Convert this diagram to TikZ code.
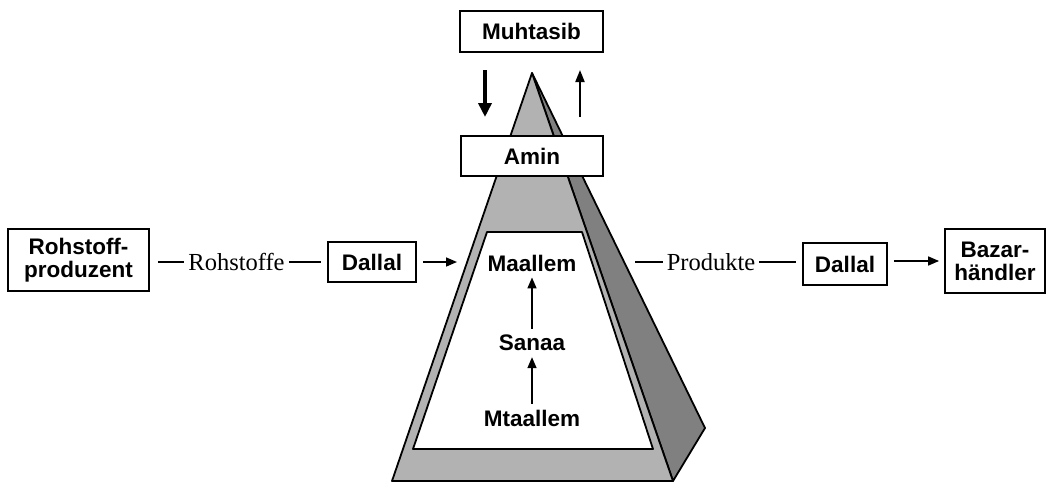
\documentclass[tikz,border=0pt]{standalone}
\usepackage{fontspec}
\setmainfont{Liberation Serif}
\setsansfont{Liberation Sans}
\usetikzlibrary{arrows.meta}
\begin{document}
\begin{tikzpicture}[x=1pt,y=-1pt,
  box/.style={draw=black,line width=1.8pt,fill=white,inner sep=0pt,align=center,
    font=\sffamily\bfseries\fontsize{22.5}{25}\selectfont},
  lbl/.style={inner sep=0pt,font=\sffamily\bfseries\fontsize{22.5}{25}\selectfont},
  srf/.style={inner sep=4pt,font=\rmfamily\fontsize{24.5}{28}\selectfont},
  conn/.style={line width=1.5pt},
  arr/.style={line width=1.6pt,-{Triangle[length=11pt,width=9pt]}},
  face/.style={draw=black,line width=1.8pt,line join=round}]
\useasboundingbox (0,0) rectangle (1050,483);
% pyramid
\coordinate (apex) at (532,73);
\coordinate (bl) at (392,481);
\coordinate (br) at (673,481);
\coordinate (sr) at (705,428);
\draw[face,fill=black!50] (apex) -- (sr) -- (br) -- cycle;
\draw[face,fill=black!30] (apex) -- (br) -- (bl) -- cycle;
\draw[face,fill=white] (487,232) -- (582,232) -- (653,449) -- (413,449) -- cycle;
% boxes
\node[box,minimum width=143pt,minimum height=41pt] (mu) at (531.5,31.5) {Muhtasib};
\node[box,minimum width=142pt,minimum height=40pt] (am) at (532,156) {Amin};
\node[box,minimum width=141pt,minimum height=62pt] (rp) at (78.5,260) {Rohstoff-\\[-2pt]produzent};
\node[srf] (rs) at (236.5,262) {Rohstoffe};
\node[box,minimum width=88pt,minimum height=40pt] (d1) at (372,262) {Dallal};
\node[srf] (pr) at (711,262) {Produkte};
\node[box,minimum width=84pt,minimum height=42pt] (d2) at (845,264) {Dallal};
\node[box,minimum width=100pt,minimum height=64pt] (bz) at (995,261) {Bazar-\\[-2pt]händler};
\node[lbl] (ma) at (532,263) {Maallem};
\node[lbl] (sa) at (532,343) {Sanaa};
\node[lbl] (mt) at (532,418) {Mtaallem};
% connectors
\coordinate (in) at (457,262);
\coordinate (out) at (635,262);
\draw[conn,shorten <=8pt] (rp.east |- rs.west) -- (rs.west);
\draw[conn,shorten >=6pt] (rs.east) -- (d1.west);
\draw[arr,shorten <=6pt] (d1.east) -- (in);
\draw[conn] (out) -- (pr.west);
\draw[conn,shorten >=6pt] (pr.east) -- (pr.east -| d2.west);
\draw[arr,shorten <=6pt,shorten >=5pt] (d2.east |- bz.west) -- (bz.west);
\draw[arr,shorten <=6pt,shorten >=6pt] (sa.north) -- (ma.south);
\draw[arr,shorten <=6pt,shorten >=6pt] (mt.north) -- (sa.south);
\coordinate (dn1) at (485,70);
\coordinate (dn2) at (485,117);
\coordinate (up1) at (580,117);
\coordinate (up2) at (580,70);
\draw[line width=4pt,-{Triangle[length=14pt,width=13pt]}] (dn1) -- (dn2);
\draw[line width=2pt,-{Triangle[length=12pt,width=9pt]}] (up1) -- (up2);
\end{tikzpicture}
\end{document}
